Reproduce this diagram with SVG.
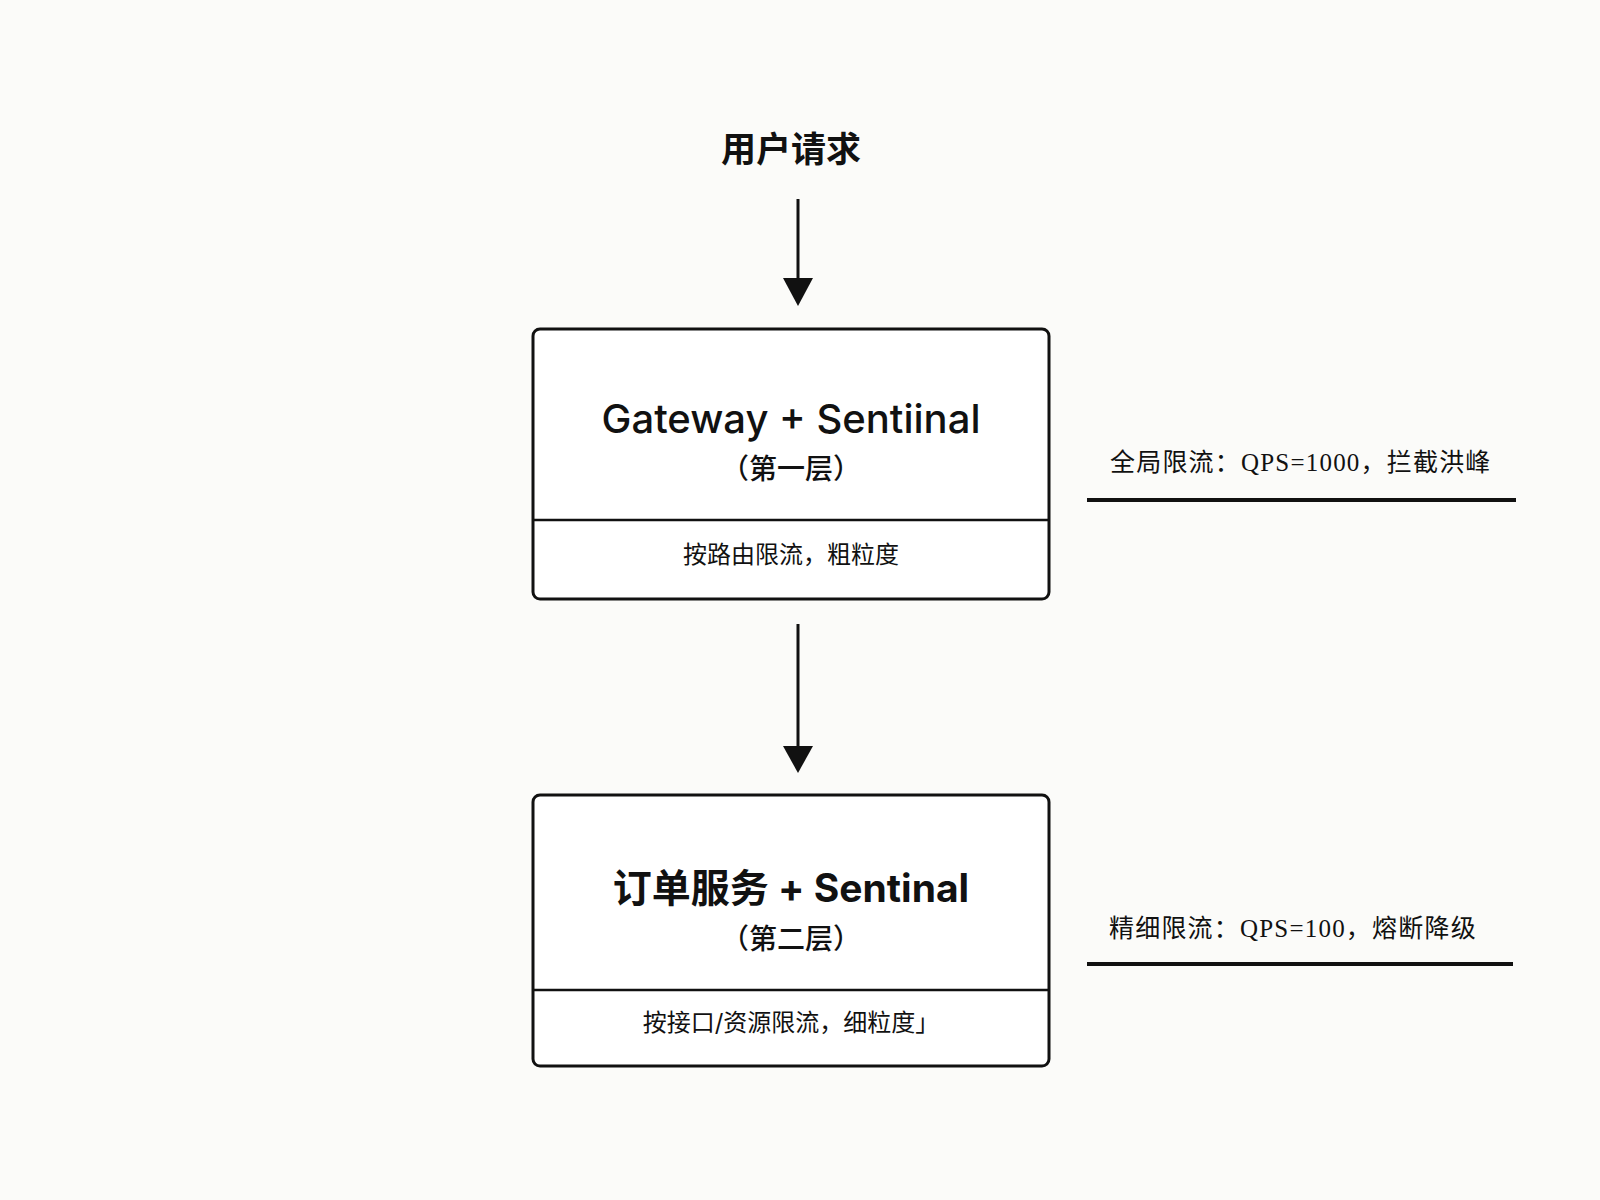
<svg xmlns="http://www.w3.org/2000/svg" width="1600" height="1200" viewBox="0 0 1600 1200">
<defs>
<style>
.box{fill:#fff;stroke:#111;stroke-width:3}
.div{stroke:#111;stroke-width:2.5}
.t{font-family:"Inter","Noto Sans CJK SC",sans-serif;fill:#111;text-anchor:middle}
.s{font-family:"Liberation Serif","Noto Sans CJK SC",serif;fill:#111;font-size:25px;letter-spacing:1.2px}
.c{stroke:#111;stroke-width:3;fill:none}
</style>
</defs>
<rect width="1600" height="1200" fill="#fbfbf9"/>
<text class="t" x="791" y="162" font-size="35" font-weight="bold">用户请求</text>
<g id="connectors">
<path class="c" d="M798,199 V280"/>
<path d="M783,278 L813,278 L798,306 z" fill="#111"/>
<path class="c" d="M798,624 V748"/>
<path d="M783,746 L813,746 L798,773 z" fill="#111"/>
</g>
<g id="n1">
<rect class="box" x="533" y="329" width="516" height="270" rx="7"/>
<line class="div" x1="533" y1="520" x2="1049" y2="520"/>
<text class="t" x="791" y="433" font-size="40" font-weight="500">Gateway + Sentiinal</text>
<text class="t" x="791" y="479" font-size="28" font-weight="500">（第一层）</text>
<text class="t" x="791" y="563" font-size="24">按路由限流，粗粒度</text>
</g>
<g id="n2">
<rect class="box" x="533" y="795" width="516" height="271" rx="7"/>
<line class="div" x1="533" y1="990" x2="1049" y2="990"/>
<text class="t" x="791" y="902" font-size="39" font-weight="bold">订单服务 + Sentinal</text>
<text class="t" x="791" y="949" font-size="28" font-weight="500">（第二层）</text>
<text class="t" x="791" y="1031" font-size="24">按接口/资源限流，细粒度」</text>
</g>
<g id="note1">
<text class="s" x="1110" y="471">全局限流：QPS=1000，拦截洪峰</text>
<line x1="1087" y1="500" x2="1516" y2="500" stroke="#111" stroke-width="4"/>
</g>
<g id="note2">
<text class="s" x="1109" y="937">精细限流：QPS=100，熔断降级</text>
<line x1="1087" y1="964" x2="1513" y2="964" stroke="#111" stroke-width="4"/>
</g>
</svg>
